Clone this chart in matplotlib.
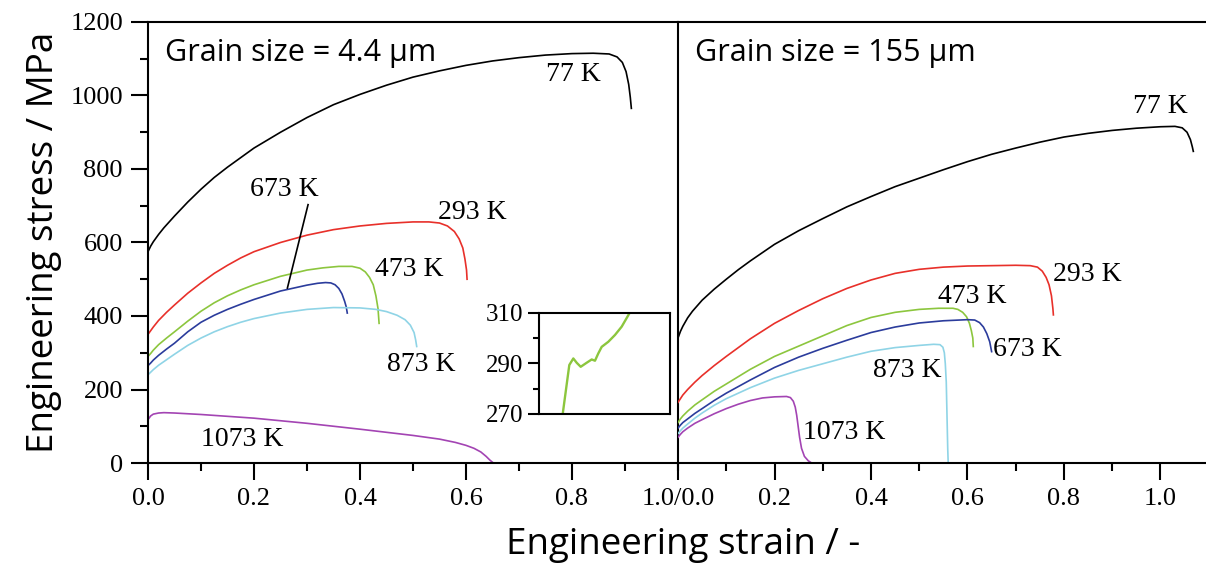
import numpy as np
import matplotlib
matplotlib.use("Agg")
import matplotlib.pyplot as plt
from matplotlib.ticker import MultipleLocator, FixedLocator, FixedFormatter

# ---------------- data ----------------
temps = ["77 K", "293 K", "473 K", "673 K", "873 K", "1073 K"]
colors = ["#000000", "#e8302a", "#8cc63e", "#2b3c9c", "#8fd4e6", "#a344b3"]

# Left panel: grain size 4.4 um
L77_strain = [0, 0.005, 0.01, 0.02, 0.03, 0.05, 0.075, 0.1, 0.125, 0.15, 0.2, 0.25, 0.3, 0.35, 0.4, 0.45,
              0.5, 0.55, 0.6, 0.65, 0.7, 0.75, 0.8, 0.84, 0.87, 0.885, 0.895, 0.902, 0.907, 0.91, 0.912]
L77_stress = [575, 590, 602, 622, 640, 672, 710, 745, 777, 805, 857, 900, 940, 975, 1003, 1028,
              1050, 1067, 1082, 1094, 1103, 1110, 1114, 1115, 1113, 1105, 1090, 1065, 1030, 995, 965]
L293_strain = [0, 0.005, 0.01, 0.02, 0.035, 0.05, 0.075, 0.1, 0.125, 0.15, 0.175, 0.2, 0.25, 0.3, 0.35,
               0.4, 0.45, 0.5, 0.53, 0.55, 0.565, 0.578, 0.587, 0.594, 0.598, 0.601, 0.602]
L293_stress = [350, 360, 370, 388, 410, 430, 462, 490, 516, 538, 558, 575, 600, 620, 635,
               645, 652, 656, 656, 653, 645, 630, 610, 585, 555, 525, 500]
L473_strain = [0, 0.005, 0.01, 0.02, 0.035, 0.05, 0.075, 0.1, 0.125, 0.15, 0.175, 0.2, 0.25, 0.3, 0.33,
               0.36, 0.385, 0.4, 0.41, 0.418, 0.425, 0.43, 0.434, 0.436]
L473_stress = [290, 298, 307, 322, 340, 357, 386, 413, 436, 455, 471, 485, 508, 525, 531,
               535, 535, 530, 520, 505, 485, 455, 420, 380]
L673_strain = [0, 0.005, 0.01, 0.02, 0.035, 0.05, 0.075, 0.1, 0.125, 0.15, 0.175, 0.2, 0.25, 0.3, 0.32,
               0.335, 0.345, 0.353, 0.36, 0.366, 0.371, 0.374, 0.376]
L673_stress = [265, 272, 280, 293, 310, 326, 357, 383, 402, 418, 432, 445, 468, 484, 489,
               491, 490, 485, 475, 460, 440, 425, 408]
L873_strain = [0, 0.005, 0.01, 0.02, 0.035, 0.05, 0.075, 0.1, 0.125, 0.15, 0.175, 0.2, 0.25, 0.3, 0.35,
               0.4, 0.43, 0.45, 0.47, 0.485, 0.495, 0.502, 0.505, 0.507]
L873_stress = [240, 247, 254, 266, 281, 296, 320, 340, 357, 371, 383, 393, 408, 418, 423,
               422, 418, 412, 402, 390, 375, 355, 335, 317]
L1073_strain = [0, 0.005, 0.01, 0.02, 0.03, 0.05, 0.1, 0.2, 0.3, 0.4, 0.5, 0.55, 0.58, 0.6, 0.615,
                0.628, 0.638, 0.645, 0.65]
L1073_stress = [118, 128, 133, 136, 137, 136, 132, 122, 108, 92, 75, 65, 56, 48, 40,
                30, 18, 8, 2]

# Right panel: grain size 155 um
R77_strain = [0, 0.005, 0.01, 0.02, 0.03, 0.05, 0.075, 0.1, 0.125, 0.15, 0.2, 0.25, 0.3, 0.35, 0.4,
              0.45, 0.5, 0.55, 0.6, 0.65, 0.7, 0.75, 0.8, 0.85, 0.9, 0.95, 1.0, 1.03, 1.045, 1.055,
              1.062, 1.066, 1.068]
R77_stress = [340, 358, 372, 395, 413, 443, 473, 500, 526, 550, 595, 632, 665, 697, 725,
              752, 775, 798, 820, 840, 857, 873, 887, 897, 905, 911, 915, 916, 912, 900,
              880, 860, 848]
R293_strain = [0, 0.005, 0.01, 0.02, 0.035, 0.05, 0.075, 0.1, 0.15, 0.2, 0.25, 0.3, 0.35, 0.4, 0.45,
               0.5, 0.55, 0.6, 0.65, 0.7, 0.73, 0.745, 0.755, 0.763, 0.769, 0.774, 0.777, 0.778]
R293_stress = [165, 175, 185, 200, 220, 238, 265, 290, 338, 380, 415, 447, 475, 498, 516,
               527, 533, 536, 537, 538, 537, 533, 522, 505, 485, 455, 420, 403]
R473_strain = [0, 0.005, 0.01, 0.02, 0.035, 0.05, 0.075, 0.1, 0.15, 0.2, 0.25, 0.3, 0.35, 0.4, 0.45,
               0.5, 0.54, 0.57, 0.58, 0.59, 0.598, 0.604, 0.608, 0.611, 0.612]
R473_stress = [110, 120, 128, 141, 158, 172, 195, 215, 255, 290, 318, 346, 374, 396, 410,
               418, 421, 421, 418, 410, 398, 380, 360, 340, 317]
R673_strain = [0, 0.005, 0.01, 0.02, 0.035, 0.05, 0.075, 0.1, 0.15, 0.2, 0.25, 0.3, 0.35, 0.4, 0.45,
               0.5, 0.55, 0.6, 0.615, 0.625, 0.633, 0.64, 0.646, 0.65]
R673_stress = [95, 103, 110, 120, 135, 148, 170, 190, 226, 260, 288, 312, 334, 355, 370,
               381, 387, 390, 389, 382, 370, 352, 330, 303]
R873_strain = [0, 0.005, 0.01, 0.02, 0.035, 0.05, 0.075, 0.1, 0.15, 0.2, 0.25, 0.3, 0.35, 0.4, 0.45,
               0.5, 0.53, 0.543, 0.549, 0.552, 0.554, 0.556, 0.557, 0.558, 0.559, 0.56]
R873_stress = [80, 88, 95, 106, 122, 136, 157, 175, 205, 231, 252, 270, 288, 304, 314,
               320, 323, 322, 315, 300, 270, 220, 160, 100, 40, 0]
R1073_strain = [0, 0.005, 0.01, 0.02, 0.035, 0.05, 0.075, 0.1, 0.125, 0.15, 0.175, 0.2, 0.225, 0.233,
                0.239, 0.243, 0.246, 0.249, 0.252, 0.256, 0.262, 0.27, 0.277, 0.282]
R1073_stress = [70, 78, 85, 95, 108, 118, 134, 148, 160, 170, 177, 180, 181, 178,
                168, 152, 130, 100, 70, 40, 18, 6, 0, 0]

# Inset (zoom of 473 K yield region, left panel)
inset_strain = [0.00543, 0.00648, 0.00694, 0.00786, 0.00863, 0.00955, 0.01092, 0.01207,
                0.01282, 0.01358, 0.01436, 0.01587, 0.0174, 0.01894, 0.02061]
inset_stress = [270, 283.5, 289.4, 292, 290.3, 288.7, 290.3, 291.6, 291.1, 294, 296.6,
                298.6, 301.3, 304.6, 309.6]

# Label positions (strain, stress)
L_label_pos = [(0.75, 1057), (0.547, 681), (0.428, 526), (0.192, 744), (0.451, 267), (0.10, 63)]
R_label_pos = [(0.943, 970), (0.777, 512), (0.539, 452), (0.653, 308), (0.404, 253), (0.259, 84)]
leader_673 = ([0.302, 0.263], [703, 476])

y_ticks = [0, 200, 400, 600, 800, 1000, 1200]
L_xticks = [0.0, 0.2, 0.4, 0.6, 0.8, 1.0]
L_xticklabels = ["0.0", "0.2", "0.4", "0.6", "0.8", "1.0/0.0"]
R_xticks = [0.2, 0.4, 0.6, 0.8, 1.0]
R_xticklabels = ["0.2", "0.4", "0.6", "0.8", "1.0"]
inset_yticks = [270, 290, 310]

left_curves = [(L77_strain, L77_stress), (L293_strain, L293_stress), (L473_strain, L473_stress),
               (L673_strain, L673_stress), (L873_strain, L873_stress), (L1073_strain, L1073_stress)]
right_curves = [(R77_strain, R77_stress), (R293_strain, R293_stress), (R473_strain, R473_stress),
                (R673_strain, R673_stress), (R873_strain, R873_stress), (R1073_strain, R1073_stress)]

# ---------------- figure ----------------
SERIF = "Liberation Serif"
SANS = "Open Sans"
plt.rcParams["font.family"] = SERIF

fig = plt.figure(figsize=(12.06, 5.69), dpi=100)
axL = fig.add_axes([148 / 1206, 106 / 569, 530 / 1206, 441 / 569])
axR = fig.add_axes([678 / 1206, 106 / 569, 530 / 1206, 441 / 569])
axR.set_facecolor("none")

lw = 1.2
for ax, curves in ((axL, left_curves), (axR, right_curves)):
    for (s, st), c in zip(curves, colors):
        ax.plot(s, st, color=c, lw=lw, solid_joinstyle="round")
    ax.set_ylim(0, 1200)
    for sp in ax.spines.values():
        sp.set_linewidth(1.5)
    ax.tick_params(which="major", direction="out", length=12, width=1.5, labelsize=19, pad=6)
    ax.tick_params(which="minor", direction="out", length=6, width=1.5)
    ax.xaxis.set_minor_locator(MultipleLocator(0.1))

axL.set_xlim(0, 1.0)
axL.xaxis.set_major_locator(FixedLocator(L_xticks))
axL.xaxis.set_major_formatter(FixedFormatter(L_xticklabels))
axL.yaxis.set_major_locator(FixedLocator(y_ticks))
axL.yaxis.set_minor_locator(MultipleLocator(100))

axR.set_xlim(0, 1.0 * 530 / 482.5)
axR.xaxis.set_major_locator(FixedLocator(R_xticks))
axR.xaxis.set_major_formatter(FixedFormatter(R_xticklabels))
axR.tick_params(axis="y", which="both", left=False, labelleft=False)
axR.spines["right"].set_visible(False)
axR.spines["left"].set_visible(False)

for lab, (x, y) in zip(temps, L_label_pos):
    axL.text(x, y, lab, fontsize=20, ha="left", va="center", family=SERIF)
for lab, (x, y) in zip(temps, R_label_pos):
    axR.text(x, y, lab, fontsize=20, ha="left", va="center", family=SERIF)
axL.plot(leader_673[0], leader_673[1], color="black", lw=1.2)

axL.text(17 / 530, 1115, "Grain size = 4.4 \u03bcm", fontsize=22, family=SANS, ha="left", va="center")
axR.text(17 / 482.5, 1115, "Grain size = 155 \u03bcm", fontsize=22, family=SANS, ha="left", va="center")

axL.set_ylabel("Engineering stress / MPa", fontsize=26.5, family=SANS, labelpad=6)
fig.text(683 / 1206, 1 - 545 / 569, "Engineering strain / -", fontsize=26.5, family=SANS,
         ha="center", va="center")

# inset
axI = fig.add_axes([539 / 1206, (569 - 414) / 569, 131 / 1206, 101 / 569])
axI.plot(inset_strain, inset_stress, color=colors[2], lw=1.7)
axI.set_xlim(0, 0.03)
axI.set_ylim(270, 310)
axI.set_xticks([])
axI.yaxis.set_major_locator(FixedLocator(inset_yticks))
axI.yaxis.set_minor_locator(MultipleLocator(10))
axI.tick_params(which="major", direction="out", length=8, width=1.5, labelsize=18, pad=3)
axI.tick_params(which="minor", direction="out", length=4, width=1.5)
for sp in axI.spines.values():
    sp.set_linewidth(1.5)

fig.savefig("out.png", dpi=100)
